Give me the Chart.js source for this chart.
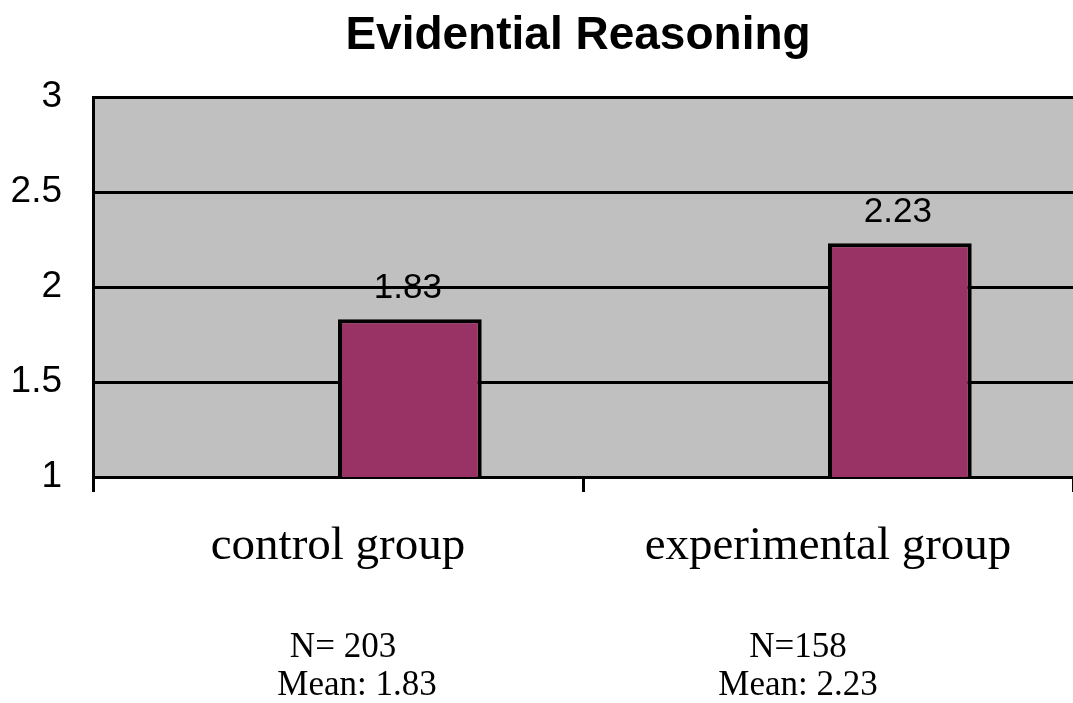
<!DOCTYPE html>
<html>
<head>
<meta charset="utf-8">
<title>Evidential Reasoning</title>
<script src="https://cdn.jsdelivr.net/npm/chart.js@4.4.0/dist/chart.umd.min.js"></script>
<style>
  body { margin: 0; background: #fff; }
  canvas { display: block; }
</style>
</head>
<body>
<canvas id="bargraph" width="1073" height="703"></canvas>
<script>
// chart data
const chartTitle = 'Evidential Reasoning'
const groups = ['control group', 'experimental group']
const means = [1.83, 2.23]
const sampleSizes = ['N= 203', 'N=158']
const meanNotes = ['Mean: 1.83', 'Mean: 2.23']
const yTicks = [1, 1.5, 2, 2.5, 3]

const sans = "'Liberation Sans', Arial, sans-serif"
const serif = "'Liberation Serif', 'Times New Roman', serif"

// grey plot area
const plotBackground = {
  id: 'plotBackground',
  beforeDraw(chart) {
    const a = chart.chartArea
    const ctx = chart.ctx
    ctx.save()
    ctx.fillStyle = '#c0c0c0'
    ctx.fillRect(a.left, a.top, a.right - a.left, a.bottom - a.top)
    ctx.restore()
  }
}

// value above each bar
const barLabels = {
  id: 'barLabels',
  afterDatasetsDraw(chart) {
    const ctx = chart.ctx
    const meta = chart.getDatasetMeta(1)
    ctx.save()
    ctx.font = '35px ' + sans
    ctx.fillStyle = '#000'
    ctx.textAlign = 'center'
    ctx.textBaseline = 'alphabetic'
    meta.data.forEach((bar, i) => {
      ctx.fillText(means[i].toFixed(2), bar.x - 2, bar.y - 21)
    })
    ctx.restore()
  }
}

// title and the N / mean notes under the axis
const extraText = {
  id: 'extraText',
  afterDraw(chart) {
    const ctx = chart.ctx
    const x = chart.scales.x
    ctx.save()
    ctx.fillStyle = '#000'
    ctx.textAlign = 'center'
    ctx.textBaseline = 'alphabetic'

    ctx.font = 'bold 46px ' + sans
    ctx.fillText(chartTitle, 578, 49)

    const nShift = [5, -30]
    const meanShift = [19, -30]
    ctx.font = '35px ' + serif
    groups.forEach((g, i) => {
      const cx = x.getPixelForValue(i)
      ctx.fillText(sampleSizes[i], cx + nShift[i], 657)
      ctx.fillText(meanNotes[i], cx + meanShift[i], 695)
    })
    ctx.restore()
  }
}

const chart = document.getElementById('bargraph')

let barChart = new Chart(chart, {
  type: 'bar',
  data: {
    labels: groups,
    datasets: [
      {
        label: 'empty',
        data: groups.map(() => null),
        backgroundColor: '#993366'
      },
      {
        label: 'mean',
        data: means,
        backgroundColor: '#993366',
        borderColor: '#000',
        borderWidth: 4
      }
    ]
  },
  options: {
    responsive: false,
    animation: false,
    devicePixelRatio: 1,
    categoryPercentage: 0.5866,
    barPercentage: 1,
    layout: { padding: { top: 97, left: 0, right: 0, bottom: 0 } },
    plugins: {
      legend: { display: false },
      title: { display: false },
      tooltip: { enabled: false }
    },
    scales: {
      x: {
        afterFit(scale) { scale.height = 226 },
        grid: {
          drawOnChartArea: false,
          drawTicks: true,
          tickLength: 15,
          color: '#000',
          lineWidth: 3
        },
        border: { color: '#000', width: 3 },
        ticks: {
          color: '#000',
          padding: 26,
          font: { family: serif, size: 47 }
        }
      },
      y: {
        min: 1,
        max: 3,
        afterFit(scale) { scale.width = 93 },
        afterBuildTicks(scale) { scale.ticks = yTicks.map(v => ({ value: v })) },
        grid: {
          drawTicks: false,
          color: '#000',
          lineWidth: 3
        },
        border: { color: '#000', width: 3 },
        ticks: {
          color: '#000',
          padding: 31,
          font: { family: sans, size: 37 },
          callback: v => String(v)
        }
      }
    }
  },
  plugins: [plotBackground, barLabels, extraText]
})
</script>
</body>
</html>
